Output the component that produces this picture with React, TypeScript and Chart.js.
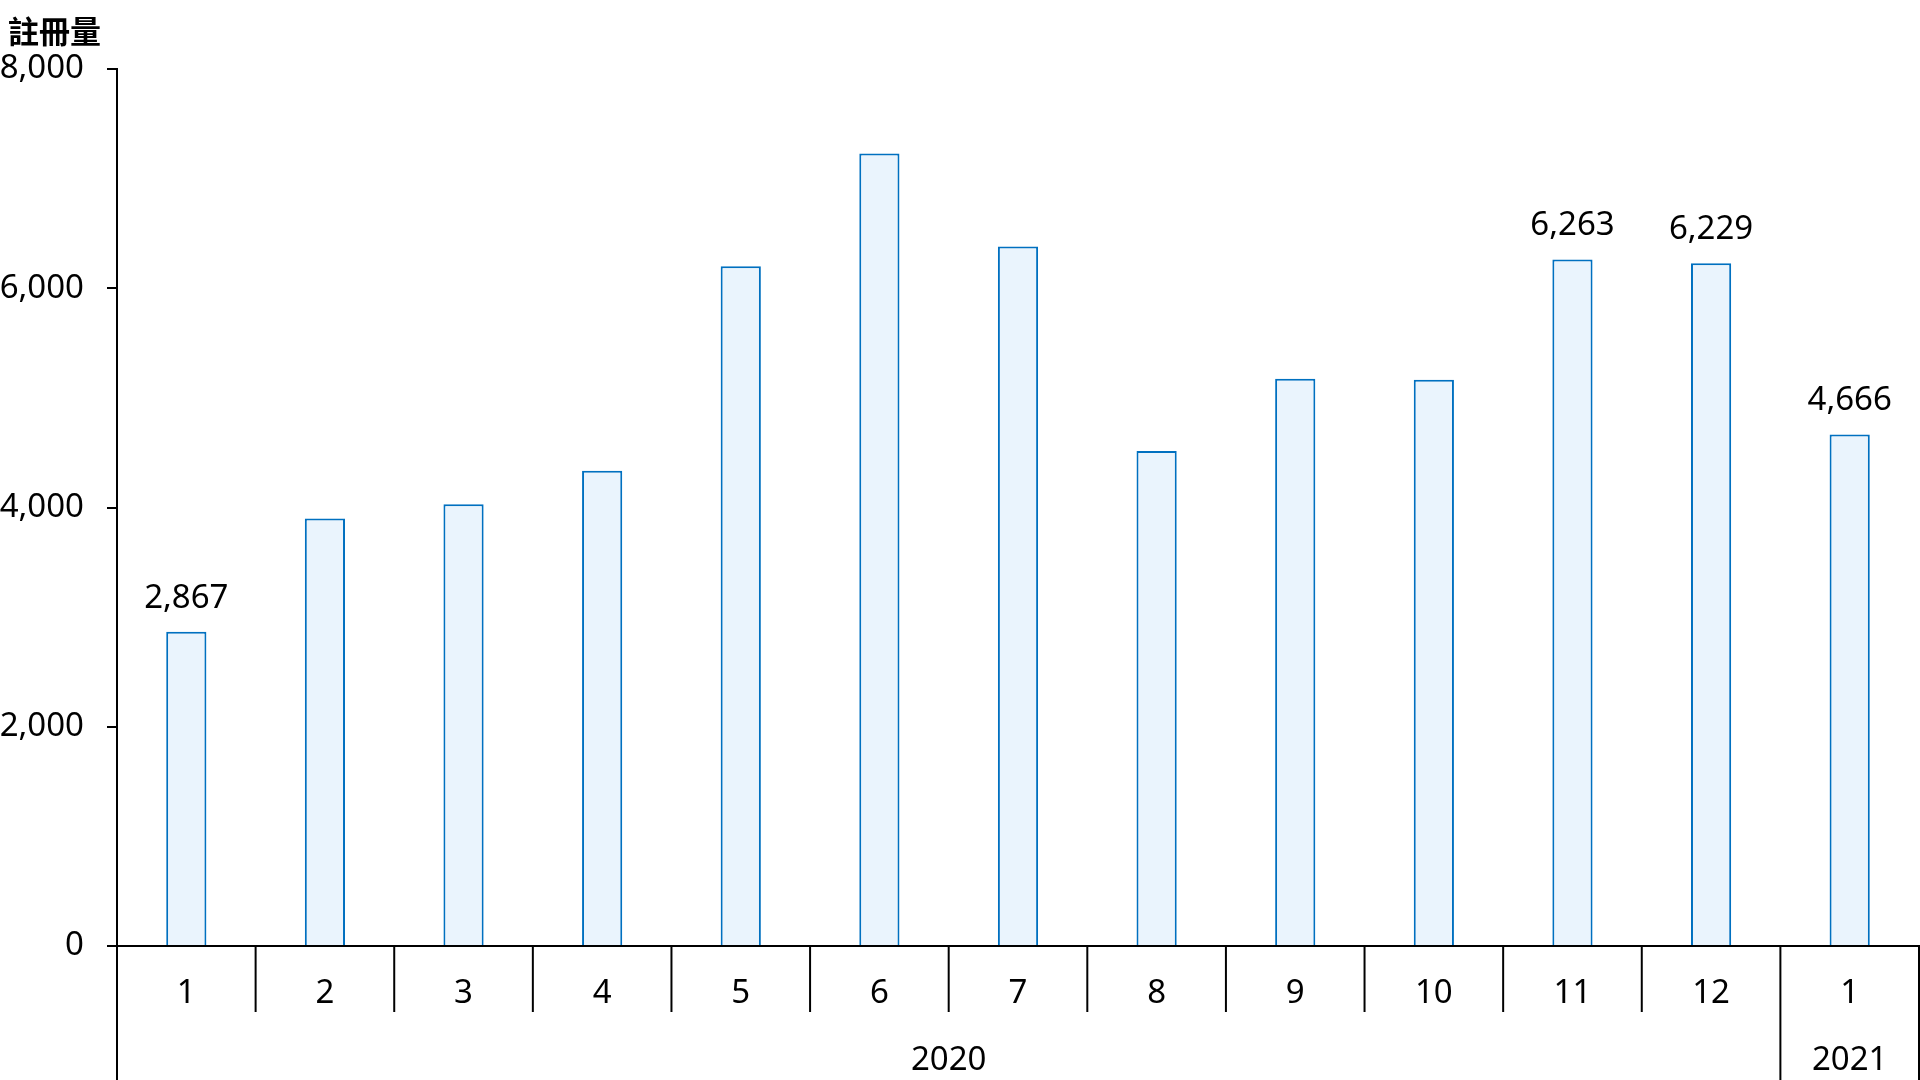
import React, { useEffect, useRef } from "react";
import { Chart, registerables } from "chart.js";

Chart.register(...registerables);

// ---- data ----
const monthLabels = ["1", "2", "3", "4", "5", "6", "7", "8", "9", "10", "11", "12", "1"];
const registrations = [2867, 3900, 4030, 4335, 6200, 7230, 6380, 4515, 5175, 5165, 6263, 6229, 4666];
const labeledIndices = [0, 10, 11, 12];
const yearLabels = ["2020", "2021"];
const yearSpans = [12, 1];
const yMin = 0;
const yMax = 8000;
const yStep = 2000;
const axisTitle = "註冊量";

const FONT = "'Noto Sans', 'Noto Sans CJK TC', sans-serif";

const multiAxisPlugin = {
  id: "multiAxis",
  afterDraw(chart: any) {
    const ctx = chart.ctx as CanvasRenderingContext2D;
    const xs = chart.scales.x;
    const area = chart.chartArea;
    const n = monthLabels.length;
    const half = (xs.getPixelForValue(1) - xs.getPixelForValue(0)) / 2;
    const boundary = (i: number) =>
      i < n ? xs.getPixelForValue(i) - half : xs.getPixelForValue(n - 1) + half;

    const yearBounds = new Set<number>();
    let acc = 0;
    yearBounds.add(0);
    yearSpans.forEach((s) => {
      acc += s;
      yearBounds.add(acc);
    });

    ctx.save();
    ctx.strokeStyle = "#000";
    ctx.lineWidth = 2;
    for (let i = 0; i <= n; i++) {
      const bx = boundary(i);
      const yEnd = yearBounds.has(i) ? chart.height : area.bottom + 66;
      ctx.beginPath();
      ctx.moveTo(bx, area.bottom);
      ctx.lineTo(bx, yEnd);
      ctx.stroke();
    }

    ctx.fillStyle = "#000";
    ctx.font = `33px ${FONT}`;
    ctx.textAlign = "center";
    ctx.textBaseline = "middle";
    acc = 0;
    yearLabels.forEach((lab, k) => {
      const s = boundary(acc);
      const e = boundary(acc + yearSpans[k]);
      acc += yearSpans[k];
      ctx.fillText(lab, (s + e) / 2, 1061);
    });

    const meta = chart.getDatasetMeta(0);
    ctx.textBaseline = "alphabetic";
    labeledIndices.forEach((i) => {
      const el = meta.data[i];
      ctx.fillText(registrations[i].toLocaleString("en-US"), el.x, el.y - 24);
    });

    ctx.textAlign = "left";
    ctx.textBaseline = "middle";
    ctx.font = `bold 31px 'Noto Sans CJK TC', sans-serif`;
    ctx.fillText(axisTitle, 8, 31);
    ctx.restore();
  },
};

export default function App() {
  const ref = useRef<HTMLCanvasElement>(null);

  useEffect(() => {
    if (!ref.current) return;
    const chart = new Chart(ref.current, {
      type: "bar",
      data: {
        labels: monthLabels,
        datasets: [
          {
            data: registrations,
            backgroundColor: "#EAF4FD",
            borderColor: "#0070C0",
            borderWidth: 2,
            barPercentage: 0.29,
            categoryPercentage: 1,
          },
        ],
      },
      options: {
        animation: false,
        responsive: false,
        layout: { padding: { top: 69, right: 1, left: 0, bottom: 0 } },
        plugins: {
          legend: { display: false },
          tooltip: { enabled: false },
          title: { display: false },
        },
        scales: {
          x: {
            afterFit: (s: any) => {
              s.height = 134;
            },
            grid: { display: false, drawTicks: false },
            border: { display: true, color: "#000", width: 2 },
            ticks: {
              color: "#000",
              font: { family: FONT, size: 33 },
              padding: 28,
              maxRotation: 0,
              autoSkip: false,
            },
          },
          y: {
            min: yMin,
            max: yMax,
            afterFit: (s: any) => {
              s.width = 117;
            },
            grid: {
              drawOnChartArea: false,
              drawTicks: true,
              tickLength: 10,
              color: "#000",
              lineWidth: 2,
            },
            border: { display: true, color: "#000", width: 2 },
            ticks: {
              stepSize: yStep,
              color: "#000",
              font: { family: FONT, size: 33 },
              padding: 23,
              callback: (v: any) => Number(v).toLocaleString("en-US"),
            },
          },
        },
      },
      plugins: [multiAxisPlugin],
    });
    return () => chart.destroy();
  }, []);

  return (
    <div style={{ position: "fixed", left: 0, top: 0, width: 1920, height: 1080, background: "#fff" }}>
      <canvas ref={ref} width={1920} height={1080} style={{ display: "block" }} />
    </div>
  );
}
